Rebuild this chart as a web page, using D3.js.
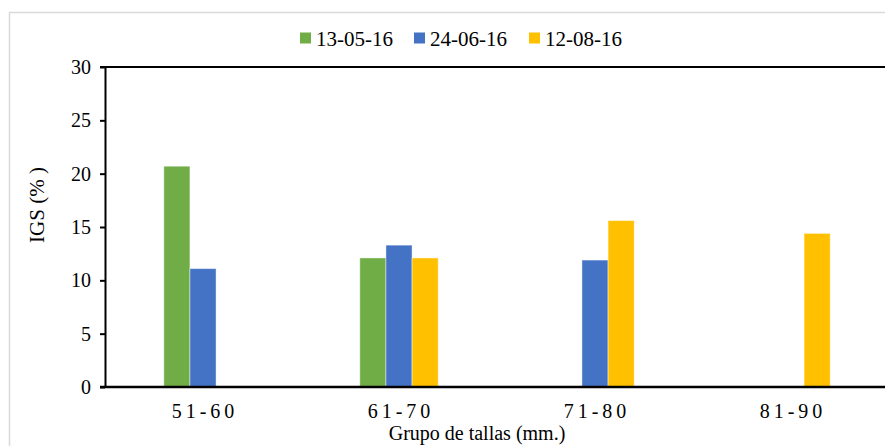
<!DOCTYPE html>
<html>
<head>
<meta charset="utf-8">
<script src="https://cdn.jsdelivr.net/npm/d3@7/dist/d3.min.js"></script>
<style>
  html, body { margin: 0; padding: 0; background: #fff; }
  svg { display: block; }
  text { font-family: "Liberation Serif", "Times New Roman", serif; fill: #000; }
</style>
</head>
<body>
<svg id="chart" width="885" height="446"></svg>
<script>
// ---- data ----
const categories = ["51-60", "61-70", "71-80", "81-90"];
const seriesNames = ["13-05-16", "24-06-16", "12-08-16"];
const seriesColors = ["#70AD47", "#4472C4", "#FFC000"];
const values_130516 = [20.7, 12.1, 0, 0];
const values_240616 = [11.1, 13.3, 11.9, 0];
const values_120816 = [0, 12.1, 15.6, 14.4];
const yTicks = [0, 5, 10, 15, 20, 25, 30];
const yTitle = "IGS (% )";
const xTitle = "Grupo de tallas (mm.)";

const seriesValues = [values_130516, values_240616, values_120816];
const FONT = '"Liberation Serif", "Times New Roman", serif';

const svg = d3.select("#chart");
const W = 885, H = 446;
const plot = { left: 105, right: 889, top: 67, bottom: 387 };

// chart frame
svg.append("rect")
  .attr("x", 9.5).attr("y", 12.5)
  .attr("width", W + 20).attr("height", H + 20)
  .attr("fill", "#fff").attr("stroke", "#d9d9d9").attr("stroke-width", 1.5);

const y = d3.scaleLinear().domain([0, 30]).range([plot.bottom, plot.top]);
const x0 = d3.scaleBand().domain(categories).range([plot.left, plot.right])
  .paddingInner(0.6).paddingOuter(0.3);
const x1 = d3.scaleBand().domain(seriesNames).range([0, x0.bandwidth()]);

// bars
const rows = [];
categories.forEach((c, i) => {
  seriesNames.forEach((s, j) => {
    if (seriesValues[j][i] > 0) rows.push({ c, s, j, v: seriesValues[j][i] });
  });
});
svg.append("g").selectAll("rect").data(rows).enter().append("rect")
  .attr("x", d => x0(d.c) + x1(d.s))
  .attr("y", d => y(d.v))
  .attr("width", x1.bandwidth())
  .attr("height", d => y(0) - y(d.v))
  .attr("fill", d => seriesColors[d.j])
  .attr("stroke", "#ffffff").attr("stroke-opacity", 0.45).attr("stroke-width", 1);

// top line at 30
svg.append("line")
  .attr("x1", plot.left - 5).attr("x2", W)
  .attr("y1", y(30)).attr("y2", y(30))
  .attr("stroke", "#000").attr("stroke-width", 2);

// y axis
const yAxis = d3.axisLeft(y).tickValues(yTicks).tickSize(5).tickPadding(9).tickSizeOuter(0);
const gy = svg.append("g").attr("transform", `translate(${plot.left},0)`).call(yAxis);
gy.attr("font-family", null).attr("font-size", null);
gy.select(".domain").attr("stroke", "#000").attr("stroke-width", 2);
gy.selectAll(".tick line").attr("stroke", "#000").attr("stroke-width", 2);
gy.selectAll(".tick text")
  .style("font-family", FONT)
  .style("font-size", "20px").attr("fill", "#000");

// x axis
const xAxis = d3.axisBottom(x0).tickSize(0).tickPadding(17).tickSizeOuter(0);
const gx = svg.append("g").attr("transform", `translate(0,${plot.bottom})`).call(xAxis);
gx.attr("font-family", null).attr("font-size", null);
gx.select(".domain").remove();
gx.selectAll(".tick text")
  .style("font-family", FONT)
  .style("font-size", "20px").style("letter-spacing", "4px").attr("fill", "#000")
  .attr("dx", "2px");
svg.append("line")
  .attr("x1", plot.left - 5).attr("x2", W)
  .attr("y1", plot.bottom).attr("y2", plot.bottom)
  .attr("stroke", "#000").attr("stroke-width", 2.5);

// axis titles
svg.append("text")
  .attr("x", (plot.left + plot.right) / 2 - 20).attr("y", 440)
  .attr("text-anchor", "middle")
  .style("font-family", FONT)
  .style("font-size", "20px")
  .text(xTitle);
svg.append("text")
  .attr("transform", `translate(44,205) rotate(-90)`)
  .attr("text-anchor", "middle")
  .style("font-family", FONT)
  .style("font-size", "21px")
  .text(yTitle);

// legend
const legendX = [300, 414, 529];
const lg = svg.append("g");
seriesNames.forEach((s, j) => {
  lg.append("rect").attr("x", legendX[j]).attr("y", 32.5).attr("width", 11).attr("height", 11)
    .attr("fill", seriesColors[j]);
  lg.append("text").attr("x", legendX[j] + 16).attr("y", 46)
    .style("font-family", FONT)
    .style("font-size", "21px").text(s);
});
</script>
</body>
</html>
